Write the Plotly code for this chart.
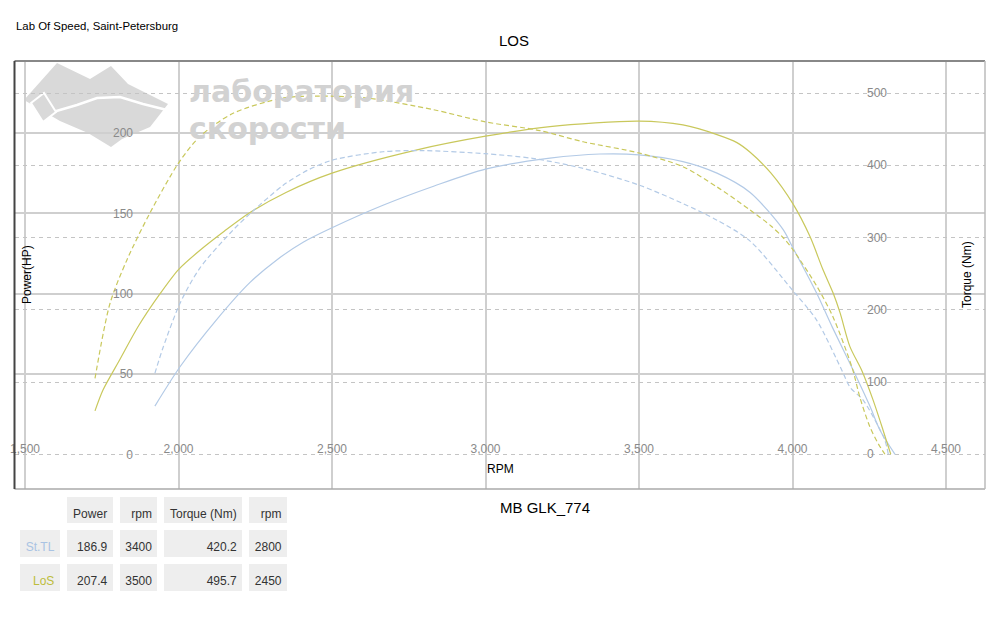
import plotly.graph_objects as go

# ---------------- data ----------------
los_power_rpm = [1728, 1754, 1809, 1870, 1940, 2000, 2070, 2150, 2233, 2350, 2500, 2777, 3000, 3210,
                 3500, 3643, 3754, 3819, 3862, 3930, 4001, 4057, 4099, 4132, 4155, 4187, 4226, 4262,
                 4295, 4320]
los_power_hp = [27, 40, 59, 80, 100, 115, 127, 139, 150.5, 163, 175, 189.5, 198, 204,
                207.4, 205, 199, 194, 188, 175, 156, 135.5, 115, 100.5, 88, 67, 52, 34,
                15, 0]

los_torque_rpm = [1728, 1777, 1832, 1907, 2000, 2070, 2178, 2340, 2450, 2614, 2829, 3000, 3177, 3318,
                  3500, 3643, 3754, 3862, 3930, 3969, 4000, 4080, 4132, 4194, 4220, 4252, 4280, 4301]
los_torque_nm = [105, 209, 269, 334, 403, 440, 472, 493, 495.7, 493, 477, 460, 448, 432.5,
                 417, 398, 370, 338, 316, 300, 284, 232, 190, 120, 78, 38, 14, 0]

stl_power_rpm = [1923, 2005, 2125, 2233, 2320, 2406, 2500, 2666, 2833, 3000, 3210, 3373, 3500, 3643,
                 3754, 3862, 3969, 4000, 4078, 4130, 4197, 4252, 4285, 4334]
stl_power_hp = [30, 54.5, 84, 107, 121, 132, 141, 155, 167, 177.5, 184.3, 186.9, 186.4, 182.2,
                175, 163, 140, 129, 100.5, 79, 52.6, 30, 15, 0]

stl_torque_rpm = [1923, 1950, 2005, 2070, 2177, 2233, 2340, 2420, 2500, 2666, 2800, 3000, 3153, 3318,
                  3500, 3643, 3754, 3862, 4000, 4078, 4161, 4187, 4230, 4269, 4301, 4312]
stl_torque_nm = [112, 148, 209, 258, 310, 333, 372, 393, 407, 418.7, 420.2, 416, 409.5, 395.7,
                 372.6, 347, 324, 295, 227, 186, 116, 93, 75, 47, 19.4, 0]

rpm_ticks = [1500, 2000, 2500, 3000, 3500, 4000, 4500]
power_ticks = [0, 50, 100, 150, 200]
torque_ticks = [0, 100, 200, 300, 400, 500]

table_header = ["", "Power", "rpm", "Torque\u00a0(Nm)", "rpm"]
table_names = ["St.TL", "LoS"]
table_power = [186.9, 207.4]
table_power_rpm = [3400, 3500]
table_torque = [420.2, 495.7]
table_torque_rpm = [2800, 2450]

# ---------------- styling ----------------
W, H = 1000, 627
YEL = "#c9c85c"
BLU = "#b3cae6"
GRID = "#cfcfcf"
FONT = "Liberation Sans, Arial, sans-serif"
CELL = "#eeeeee"


def px(x):
    return x / W


def py(y):
    return 1 - y / H


fig = go.Figure()

line_kw = dict(shape="spline", smoothing=0.8, width=1.2)
fig.add_trace(go.Scatter(x=stl_torque_rpm, y=stl_torque_nm, yaxis="y2", mode="lines",
                         line=dict(color=BLU, dash="5px,3px", **line_kw), name="St.TL torque"))
fig.add_trace(go.Scatter(x=stl_power_rpm, y=stl_power_hp, mode="lines",
                         line=dict(color=BLU, **line_kw), name="St.TL power"))
fig.add_trace(go.Scatter(x=los_torque_rpm, y=los_torque_nm, yaxis="y2", mode="lines",
                         line=dict(color=YEL, dash="5px,3px", **line_kw), name="LoS torque"))
fig.add_trace(go.Scatter(x=los_power_rpm, y=los_power_hp, mode="lines",
                         line=dict(color=YEL, **line_kw), name="LoS power"))

# table: cell backgrounds, then the text layer (shifted down a little to centre the text)
col_w = [47, 53, 45, 85, 45]
blank_header = ["" for _ in table_header]
blank_cells = [["" for _ in table_names] for _ in range(5)]
fig.add_trace(go.Table(
    domain=dict(x=[px(16.5), px(291.5)], y=[py(600), py(493.5)]),
    columnwidth=col_w,
    header=dict(values=blank_header, height=33,
                fill_color=[["white"], [CELL], [CELL], [CELL], [CELL]],
                line=dict(color="white", width=7)),
    cells=dict(values=blank_cells, height=34, fill_color=CELL,
               line=dict(color="white", width=7)),
))
fig.add_trace(go.Table(
    domain=dict(x=[px(15.5), px(290.5)], y=[py(607), py(500.5)]),
    columnwidth=col_w,
    header=dict(values=table_header, align="right", height=33,
                fill_color="rgba(0,0,0,0)", line=dict(color="rgba(0,0,0,0)", width=0),
                font=dict(family=FONT, size=12, color="#333333")),
    cells=dict(values=[table_names, table_power, table_power_rpm, table_torque, table_torque_rpm],
               format=["", ".1f", "d", ".1f", "d"],
               align="right", height=34, fill_color="rgba(0,0,0,0)",
               line=dict(color="rgba(0,0,0,0)", width=0),
               font=dict(family=FONT, size=12,
                         color=[["#a9c3e3", "#bdbd3c"], "#333333", "#333333", "#333333", "#333333"])),
))

# ---------------- layout ----------------
tickfont = dict(family=FONT, size=12, color="#8a8a8a")
fig.update_layout(
    width=W, height=H,
    margin=dict(l=0, r=0, t=0, b=0, autoexpand=False),
    paper_bgcolor="white", plot_bgcolor="white",
    showlegend=False,
    font=dict(family=FONT),
    xaxis=dict(domain=[px(15), px(985)], range=[1467.4, 4627], tickvals=rpm_ticks,
               tickformat=",", showgrid=True, gridcolor=GRID, gridwidth=1.5,
               zeroline=False, showline=False, ticks="", anchor="free", position=py(439.5),
               tickfont=tickfont, automargin=False),
    yaxis=dict(domain=[py(489), py(61)], range=[-21.6, 244.8], tickvals=power_ticks,
               showgrid=True, gridcolor=GRID, gridwidth=1.5, zeroline=True,
               zerolinecolor="rgba(0,0,0,0)", showline=False, ticks="",
               anchor="free", position=px(133), side="left", tickfont=tickfont,
               automargin=False),
    yaxis2=dict(overlaying="y", range=[-48.1, 544.3], tickvals=torque_ticks,
                showgrid=True, gridcolor="#c4c4c4", gridwidth=1, griddash="4px,4px",
                zeroline=False, showline=False, ticks="",
                anchor="free", position=px(866), side="right", tickfont=tickfont,
                automargin=False),
)

# watermark logo (decoration)
logo_pts = [(24, 100), (57, 63), (90, 79), (111, 66), (128, 84), (168, 104), (150, 127),
            (122, 139), (111, 147), (88, 133), (60, 121)]
logo_path = "M " + " L ".join(f"{px(x):.4f},{py(y):.4f}" for x, y in logo_pts) + " Z"
road_pts = [(53, 112), (77, 105), (97, 98), (120, 97), (143, 104), (167, 110)]
road_path = "M " + " L ".join(f"{px(x):.4f},{py(y):.4f}" for x, y in road_pts)
icon_pts = [(31, 103), (44, 93), (56, 112), (43, 122)]
icon_path = "M " + " L ".join(f"{px(x):.4f},{py(y):.4f}" for x, y in icon_pts) + " Z"
shapes = [
    dict(type="path", xref="paper", yref="paper", path=logo_path, fillcolor="#d9d9d9",
         line=dict(width=0), layer="below"),
    dict(type="path", xref="paper", yref="paper", path=road_path,
         line=dict(color="white", width=2.5), layer="below"),
    dict(type="path", xref="paper", yref="paper", path=icon_path, fillcolor="#d9d9d9",
         line=dict(color="white", width=2), layer="below"),
    # frame
    dict(type="line", xref="paper", yref="paper", x0=px(14.5), x1=px(985), y0=py(61), y1=py(61),
         line=dict(color="#888888", width=2)),
    dict(type="line", xref="paper", yref="paper", x0=px(14.5), x1=px(985), y0=py(489), y1=py(489),
         line=dict(color="#aaaaaa", width=1.5)),
    dict(type="line", xref="paper", yref="paper", x0=px(985), x1=px(985), y0=py(61), y1=py(489),
         line=dict(color="#bbbbbb", width=1.5)),
    dict(type="line", xref="paper", yref="paper", x0=px(14.5), x1=px(14.5), y0=py(61), y1=py(489),
         line=dict(color="#444444", width=2)),
]
fig.update_layout(shapes=shapes)

ann = []


def text(t, x, y, size, color="black", xanchor="center", angle=0, yanchor="middle",
         family=FONT):
    ann.append(dict(text=t, x=px(x), y=py(y), xref="paper", yref="paper", showarrow=False,
                    xanchor=xanchor, yanchor=yanchor, textangle=angle,
                    font=dict(family=family, size=size, color=color)))


WM_FONT = "DejaVu Sans, Liberation Sans, sans-serif"
text("<b>лаборатория</b>", 187, 91, 30, color="#d2d2d2", xanchor="left", family=WM_FONT)
text("<b>скорости</b>", 187, 128, 30, color="#d2d2d2", xanchor="left", family=WM_FONT)
text("Lab Of Speed, Saint-Petersburg", 14, 26, 11.4, xanchor="left")
text("LOS", 514, 41, 15)
text("Power(HP)", 27, 275, 12, angle=-90)
text("Torque (Nm)", 967, 275, 12, angle=-90)
text("RPM", 500, 469, 12)
text("MB GLK_774", 545, 507, 15)
fig.update_layout(annotations=ann)

fig.write_html("out.html", config={"displayModeBar": False},
               post_script="document.body.style.margin='0px';")
